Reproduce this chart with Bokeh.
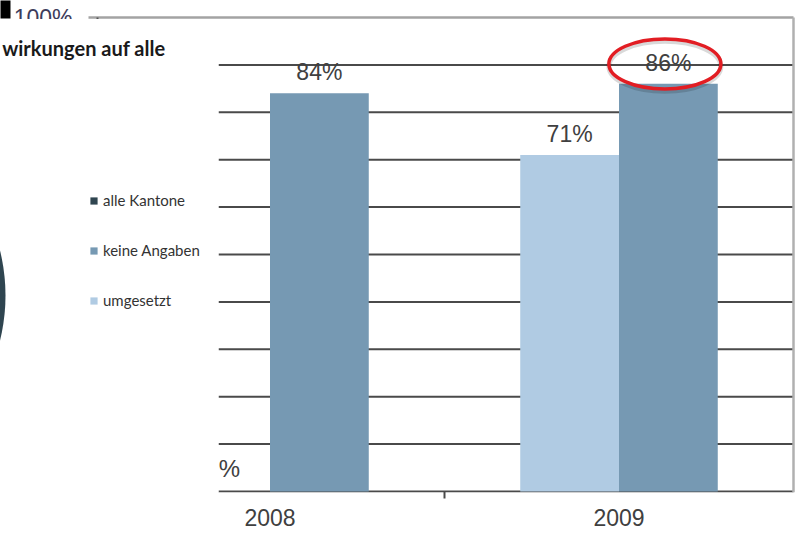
import numpy as np
from bokeh.plotting import figure
from bokeh.models import (Range1d, FixedTicker, Label, BoxAnnotation, Legend,
                          LegendItem, ColumnDataSource)
from bokeh.core.properties import value
from bokeh.embed import file_html
from bokeh.resources import INLINE

# ---------------- data ----------------
years = ["2008", "2009"]
umgesetzt = [np.nan, 71]
keine_angaben = [84, 86]
alle_kantone = [np.nan]      # only shown in the legend
series_names = ["alle Kantone", "keine Angaben", "umgesetzt"]
y_gridlines = [0, 10, 20, 30, 40, 50, 60, 70, 80, 90]
y_top_value = 100
y_top_label = "100%"
title_text = "wirkungen auf alle"
highlight_year = "2009"      # the circled 'keine Angaben' value

# ---------------- layout (pixels) ----------------
W, H = 795, 529
BORDER_BOTTOM = 37
AXIS_X0 = 95            # px of category axis start
PX_PER_CAT = 349.0
ZERO_Y = 491            # px of the 0 % baseline
PX_PER_PCT = 4.74
PANEL_RIGHT = 218       # px where the overlapping slide panel ends
frame_bottom = H - BORDER_BOTTOM

x_start = -AXIS_X0 / PX_PER_CAT
x_end = (W - AXIS_X0) / PX_PER_CAT
y_start = (ZERO_Y - frame_bottom) / PX_PER_PCT
y_end = ZERO_Y / PX_PER_PCT


def dx(px):
    return (px - AXIS_X0) / PX_PER_CAT


def dy(py):
    return (ZERO_Y - py) / PX_PER_PCT


C_DARK = "#2f4550"
C_MID = "#7699b3"
C_LIGHT = "#b0cbe3"
TXT = "#404040"
GRID = "#4a4a4a"
NUM_FONT = "Liberation Sans"
SLIDE_FONT = "Lato"

n_cat = len(years)
BAR_W = 0.283
xc = np.arange(n_cat) + 0.5
x_right = float(n_cat)

p = figure(width=W, height=H, output_backend="svg", toolbar_location=None,
           x_range=Range1d(x_start, x_end), y_range=Range1d(y_start, y_end),
           min_border_left=0, min_border_right=0, min_border_top=0,
           min_border_bottom=BORDER_BOTTOM)
p.outline_line_color = None
p.background_fill_color = "white"
p.grid.visible = False
p.yaxis.visible = False

# x axis: year labels, category separator ticks
p.xaxis.ticker = FixedTicker(ticks=list(xc), minor_ticks=list(np.arange(1, n_cat)))
p.xaxis.major_label_overrides = {float(x): y for x, y in zip(xc, years)}
p.xaxis.axis_line_color = None
p.xaxis.major_tick_line_color = None
p.xaxis.major_tick_in = 0
p.xaxis.major_tick_out = 0
p.xaxis.minor_tick_in = 1
p.xaxis.minor_tick_out = 6
p.xaxis.minor_tick_line_color = GRID
p.xaxis.minor_tick_line_width = 2
p.xaxis.major_label_standoff = 10
p.xaxis.major_label_text_font = NUM_FONT
p.xaxis.major_label_text_font_size = "23px"
p.xaxis.major_label_text_color = TXT

# horizontal gridlines (left part hidden by the slide panel)
n_g = len(y_gridlines)
p.segment(x0=[dx(PANEL_RIGHT)] * n_g, y0=y_gridlines, x1=[x_right] * n_g,
          y1=y_gridlines, line_color=GRID, line_width=2)

# bars
src = ColumnDataSource(dict(xu=xc - BAR_W / 2, xk=xc + BAR_W / 2,
                            u=np.array(umgesetzt, dtype=float),
                            k=np.array(keine_angaben, dtype=float)))
r_u = p.vbar(x="xu", top="u", bottom=0, width=BAR_W, source=src,
             fill_color=C_LIGHT, line_color=None)
r_k = p.vbar(x="xk", top="k", bottom=0, width=BAR_W, source=src,
             fill_color=C_MID, line_color=None)
r_a = p.vbar(x=[xc[0]], top=alle_kantone, bottom=0, width=BAR_W,
             fill_color=C_DARK, line_color=None)

# value labels
lab_x, lab_y, lab_t = [], [], []
for xs, vals in ((xc - BAR_W / 2, umgesetzt), (xc + BAR_W / 2, keine_angaben)):
    for x, v in zip(xs, vals):
        if not np.isnan(v):
            lab_x.append(x); lab_y.append(v); lab_t.append(f"{int(v)}%")
p.text(x=lab_x, y=lab_y, text=lab_t, text_align="center", text_baseline="bottom",
       y_offset=-8, text_font=value(NUM_FONT), text_font_size="23px", text_color=TXT)

# frame borders (top & right)
p.segment(x0=[dx(88)], y0=[y_top_value], x1=[x_right], y1=[y_top_value],
          line_color="#a3a3a3", line_width=2.5)
p.segment(x0=[dx(97)], y0=[y_top_value], x1=[dx(97)], y1=[dy(20)],
          line_color="#555555", line_width=2)
p.segment(x0=[x_right], y0=[y_start], x1=[x_right], y1=[y_top_value],
          line_color="#b0b0b0", line_width=2.5)

# highlight ellipse around 2009 'keine Angaben'
hi = years.index(highlight_year)
ex = xc[hi] + BAR_W / 2 - 0.01
ey = keine_angaben[hi] + 4.2
p.ellipse(x=[ex], y=[ey - 0.5], width=[112], height=[50], width_units="screen",
          height_units="screen", fill_color=None, line_color="#000000",
          line_alpha=0.15, line_width=5)
p.ellipse(x=[ex], y=[ey], width=[112], height=[50], width_units="screen",
          height_units="screen", fill_color=None, line_color="#e21d23",
          line_width=3.5)

# y label at the top
p.add_layout(Label(x=dx(72), y=y_top_value, text=y_top_label, text_align="right",
                   text_baseline="middle", text_font=NUM_FONT,
                   text_font_size="23px", text_color="#3d3d5c"))

# white slide panel overlapping the chart on the left
p.add_layout(BoxAnnotation(left=x_start - 0.2, right=dx(PANEL_RIGHT),
                           top=dy(18.5), bottom=y_start - 5, fill_color="white",
                           fill_alpha=1.0, line_color=None))

p.add_layout(Label(x=dx(229), y=dy(468), text="%", text_align="center",
                   text_baseline="middle", text_font=NUM_FONT,
                   text_font_size="24px", text_color=TXT))

p.add_layout(Label(x=dx(165), y=dy(47), text=title_text, text_align="right",
                   text_baseline="middle", text_font=SLIDE_FONT,
                   text_font_style="bold", text_font_size="20px",
                   text_color="#1a1a1a"))

legend = Legend(items=[LegendItem(label=series_names[0], renderers=[r_a]),
                       LegendItem(label=series_names[1], renderers=[r_k]),
                       LegendItem(label=series_names[2], renderers=[r_u])],
                location=(89, frame_bottom - 310), orientation="vertical",
                padding=0, margin=0, spacing=30, glyph_width=9, glyph_height=9,
                label_height=20, label_standoff=5, label_text_font=SLIDE_FONT,
                label_text_font_size="15px", label_text_color="#333333",
                background_fill_alpha=0, border_line_color=None)
p.add_layout(legend)

# other slide fragments at the left edge
sq = p.quad(left=[dx(0)], right=[dx(10)], top=[dy(0)], bottom=[dy(18)],
            fill_color="#000000", line_color=None)
sq.level = "overlay"
arc = p.ellipse(x=[dx(-182)], y=[dy(295)], width=[374], height=[374],
                width_units="screen", height_units="screen",
                fill_color=C_DARK, line_color=None)
arc.level = "overlay"

open("out.html", "w").write(file_html(p, INLINE))
